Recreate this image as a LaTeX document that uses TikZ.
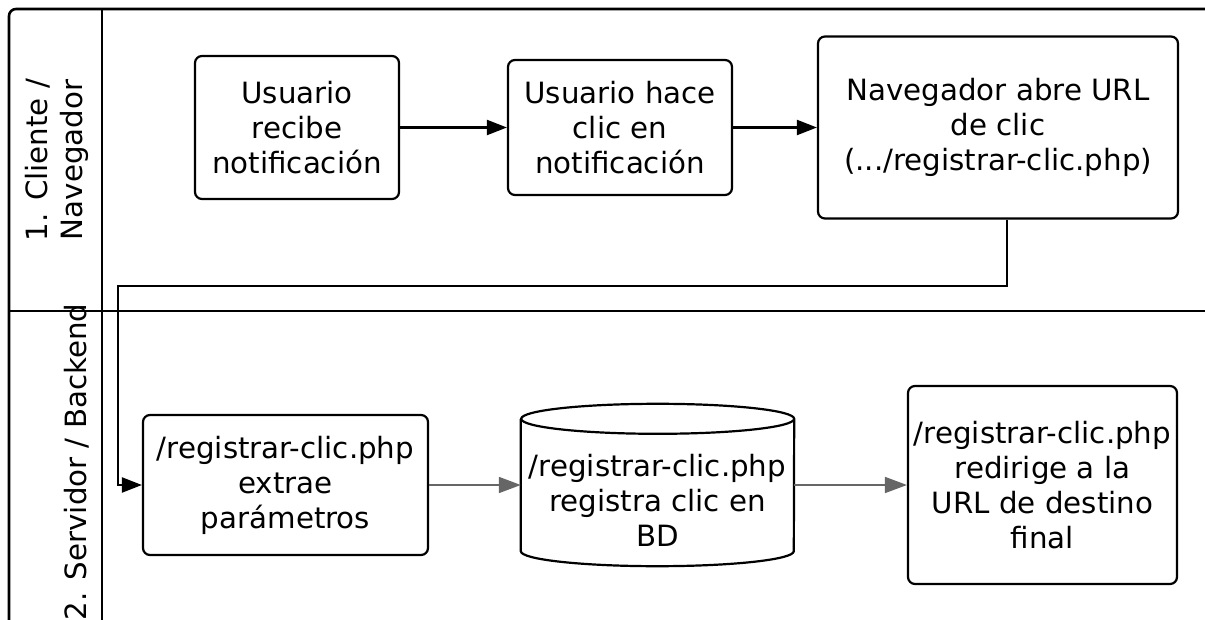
\documentclass[tikz,border=0pt]{standalone}
\usepackage{fontspec}
\setmainfont{DejaVu Sans}
\usetikzlibrary{arrows.meta}
\definecolor{flowgray}{HTML}{666666}
\begin{document}
\begin{tikzpicture}
  [x=1pt,y=-1pt,
   every node/.style={font=\fontsize{29.3}{35}\selectfont,align=center,inner sep=0pt},
   proc/.style={draw,line width=2.2pt,rounded corners=7pt,fill=white},
   lane/.style={draw,line width=2.6pt},
   flow/.style={line width=2.2pt,-{Triangle[length=20pt,width=15pt]}},
   dbflow/.style={line width=1.8pt,color=flowgray,-{Triangle[length=22pt,width=16pt]}}]
  \path[use as bounding box,clip] (0,0) rectangle (1205,620);

  % lanes
  \draw[lane,rounded corners=7pt] (9,640) |- (1230,9);
  \draw[lane] (102,9) -- (102,640);
  \draw[lane] (9,311) -- (1230,311);
  \node[rotate=90] (lane1) at (57,160) {1. Cliente /\\Navegador};
  \node[rotate=90] (lane2) at (77,462) {2. Servidor / Backend};

  % cliente
  \node[proc,minimum width=204pt,minimum height=143pt] (n1) at (297,127.5) {Usuario\\recibe\\notificación};
  \node[proc,minimum width=224pt,minimum height=135pt] (n2) at (620,127.5) {Usuario hace\\clic en\\notificación};
  \node[proc,minimum width=360pt,minimum height=182pt] (n3) at (998,127.5) {Navegador abre URL\\de clic\\(.../registrar-clic.php)};

  % servidor
  \node[proc,minimum width=285pt,minimum height=140pt] (n4) at (285.5,485) {/registrar-clic.php\\extrae\\parámetros};
  \node[minimum width=273pt,minimum height=162pt] (db) at (657.5,485) {};
  \draw[line width=2.2pt,fill=white] ([yshift=-15pt]db.north west) -- ([yshift=15pt]db.south west)
    arc[start angle=180,end angle=360,x radius=136.5pt,y radius=15pt]
    -- ([yshift=-15pt]db.north east)
    arc[start angle=0,end angle=360,x radius=136.5pt,y radius=15pt];
  \node (dbtext) at ([yshift=-15pt]db.center) {/registrar-clic.php\\registra clic en\\BD};
  \node[proc,minimum width=269pt,minimum height=198pt] (n6) at (1042.5,485) {/registrar-clic.php\\redirige a la\\URL de destino\\final};

  \coordinate (c1) at (118,286);

\path[draw]
    (n1.east) edge [flow] (n2.west)
    (n2.east) edge [flow] (n3.west)
    (n4.east) edge [dbflow] (db.west)
    (db.east) edge [dbflow] (n6.west)
    ;
  \draw[flow] ([xshift=9pt]n3.south) |- (c1) |- (n4.west);

\end{tikzpicture}
\end{document}
